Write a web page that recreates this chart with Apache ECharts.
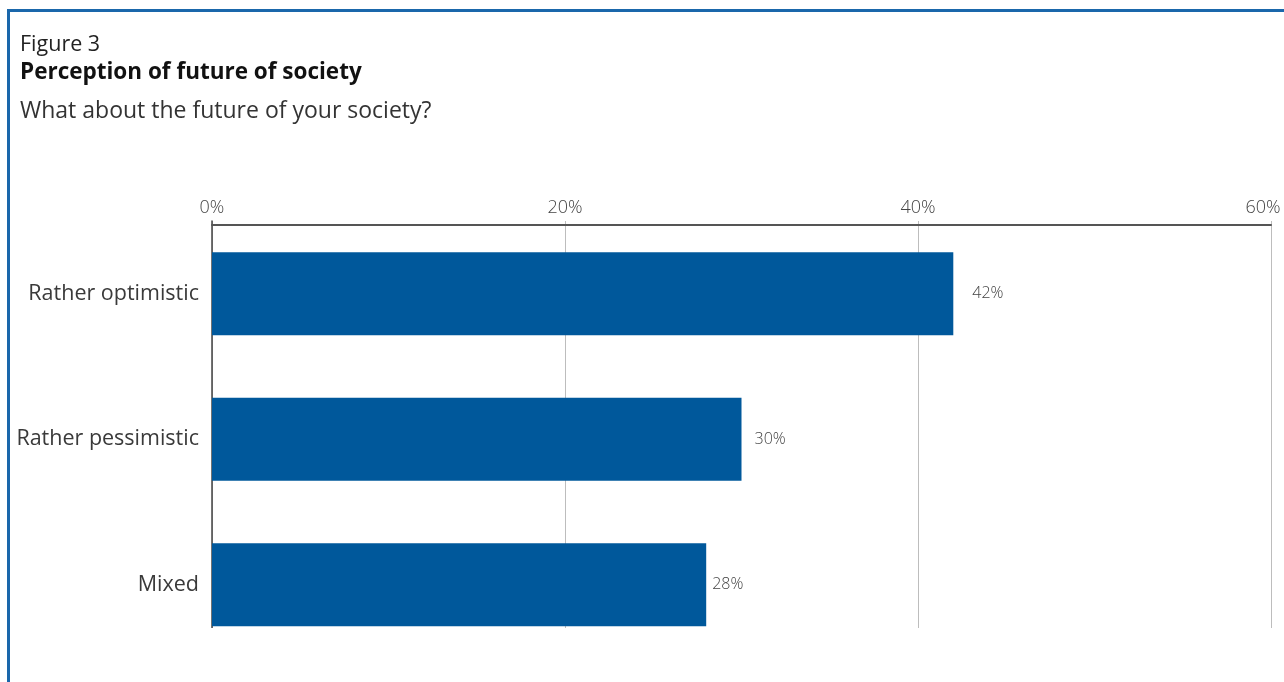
<!DOCTYPE html>
<html>
<head>
<meta charset="utf-8">
<script src="https://cdn.jsdelivr.net/npm/echarts@6/dist/echarts.min.js"></script>
<style>
html,body{margin:0;padding:0;background:#fff;overflow:hidden;}
#chart{width:1284px;height:682px;}
</style>
</head>
<body>
<div id="chart"></div>
<script>
var categories = ['Rather optimistic', 'Rather pessimistic', 'Mixed'];
var values = [42, 30, 28];
var tickValues = [0, 20, 40, 60];
var labelGaps = [19, 13, 6];

var FONT = '"Open Sans", "Noto Sans", sans-serif';
var chart = echarts.init(document.getElementById('chart'));
chart.setOption({
  backgroundColor: '#ffffff',
  animation: false,
  textStyle: { fontFamily: FONT },
  grid: { left: 212, right: 13, top: 221, bottom: 24.5, containLabel: false, outerBoundsMode: 'none' },
  xAxis: {
    type: 'value', position: 'top', min: 0, max: 60, interval: 20, offset: -4,
    axisLine: { show: true, lineStyle: { color: '#555', width: 2 } },
    axisTick: { show: false },
    splitLine: { show: true, lineStyle: { color: '#bdbdbd', width: 1 } },
    axisLabel: {
      formatter: function (v) {
        return v === tickValues[tickValues.length - 1] ? '{last|' + v + '%}' : v + '%';
      },
      rich: { last: { color: '#444', fontSize: 18, fontFamily: FONT, fontWeight: 300, padding: [0, 16, 0, 0] } },
      color: '#444', fontSize: 18, fontFamily: FONT, fontWeight: 300, margin: 8
    }
  },
  yAxis: {
    type: 'category', inverse: true, data: categories,
    axisLine: { show: true, lineStyle: { color: '#444', width: 1.5 } },
    axisTick: { show: false },
    axisLabel: { color: '#3a3a3a', fontSize: 21.5, fontFamily: FONT, fontWeight: 'normal', margin: 13 }
  },
  series: [{
    type: 'bar', barWidth: 83,
    itemStyle: { color: '#00589b' },
    data: values.map(function (v, i) {
      return { value: v, label: { distance: labelGaps[i] } };
    }),
    label: { show: true, position: 'right', formatter: '{c}%', color: '#444', fontSize: 16, fontFamily: FONT, fontWeight: 300 }
  }],
  graphic: [
    { type: 'rect', z: 100, shape: { x: 205, y: 628, width: 1079, height: 60 }, style: { fill: '#ffffff' } },
    { type: 'line', z: 101, shape: { x1: 8, y1: 10.5, x2: 1284, y2: 10.5 }, style: { stroke: '#1a67ab', lineWidth: 3 } },
    { type: 'line', z: 101, shape: { x1: 8.5, y1: 9, x2: 8.5, y2: 682 }, style: { stroke: '#1a67ab', lineWidth: 3 } },
    { type: 'text', z: 101, left: 20, top: 34, style: { text: 'Figure 3', font: 'normal 21.5px ' + FONT, fill: '#222' } },
    { type: 'text', z: 101, left: 20, top: 61, style: { text: 'Perception of future of society', font: 'bold 22.5px ' + FONT, fill: '#111' } },
    { type: 'text', z: 101, left: 20, top: 100, style: { text: 'What about the future of your society?', font: 'normal 23px ' + FONT, fill: '#333' } }
  ]
});
</script>
</body>
</html>
